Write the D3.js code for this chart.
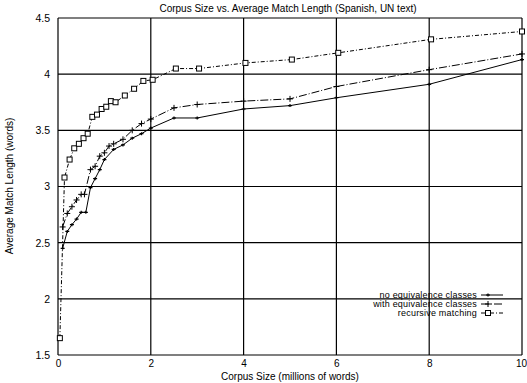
<!DOCTYPE html>
<html><head><meta charset="utf-8">
<script src="https://cdn.jsdelivr.net/npm/d3@7"></script>
<style>
html,body{margin:0;padding:0;background:#fff;}
text{font-family:"Liberation Sans",Arial,Helvetica,sans-serif;fill:#000;}
</style></head>
<body><svg id="c" width="527" height="383"></svg>
<script>
const title = "Corpus Size vs. Average Match Length (Spanish, UN text)";
const xLabel = "Corpus Size (millions of words)";
const yLabel = "Average Match Length (words)";
const xTicks = [0, 2, 4, 6, 8, 10];
const yTicks = [1.5, 2, 2.5, 3, 3.5, 4, 4.5];
const seriesNames = ["no equivalence classes", "with equivalence classes", "recursive matching"];

const noEqX = [0.1,0.2,0.3,0.4,0.5,0.6,0.7,0.8,0.9,1.0,1.2,1.4,1.6,1.8,2.0,2.5,3.0,4.0,5.0,6.0,8.0,10];
const noEqY = [2.45,2.60,2.66,2.71,2.77,2.77,2.99,3.07,3.15,3.24,3.33,3.37,3.43,3.47,3.52,3.61,3.61,3.69,3.72,3.79,3.91,4.13];

const withEqX = [0.1,0.2,0.3,0.4,0.5,0.57,0.7,0.8,0.9,1.0,1.1,1.2,1.4,1.6,1.8,2.0,2.5,3.0,4.0,5.0,6.0,8.0,10];
const withEqY = [2.64,2.76,2.82,2.88,2.93,2.93,3.15,3.18,3.27,3.30,3.36,3.38,3.42,3.50,3.56,3.60,3.70,3.73,3.76,3.78,3.89,4.04,4.18];

const recX = [0.04,0.14,0.25,0.35,0.45,0.55,0.64,0.74,0.84,0.94,1.04,1.14,1.24,1.44,1.64,1.84,2.04,2.54,3.04,4.04,5.04,6.04,8.04,10];
const recY = [1.65,3.08,3.24,3.34,3.38,3.43,3.47,3.62,3.64,3.69,3.71,3.76,3.75,3.81,3.87,3.94,3.95,4.05,4.05,4.10,4.13,4.19,4.31,4.38];

const svg = d3.select("#c");
const L = 58, R = 522, T = 18, B = 355;
const x = d3.scaleLinear().domain([0, 10]).range([L, R]);
const y = d3.scaleLinear().domain([1.5, 4.5]).range([B, T]);

// grid
const g = svg.append("g");
g.selectAll(".vg").data(xTicks).enter().append("line")
  .attr("x1", d => x(d)).attr("x2", d => x(d)).attr("y1", T).attr("y2", B)
  .attr("stroke", "#000").attr("stroke-width", 1.2);
g.selectAll(".hg").data(yTicks).enter().append("line")
  .attr("x1", L).attr("x2", R).attr("y1", d => y(d)).attr("y2", d => y(d))
  .attr("stroke", "#000").attr("stroke-width", 1.2);

// axes labels
const xa = svg.append("g").attr("transform", `translate(0,${B})`)
  .call(d3.axisBottom(x).tickValues(xTicks).tickSize(0).tickPadding(5).tickFormat(d3.format("d")));
xa.select(".domain").remove();
xa.selectAll("text").attr("font-size", 10).style("font-family", "Liberation Sans, Arial, sans-serif")
  .attr("dx", d => d === 10 ? -1 : 0);
const ya = svg.append("g").attr("transform", `translate(${L},0)`)
  .call(d3.axisLeft(y).tickValues(yTicks).tickSize(0).tickPadding(8).tickFormat(d => d));
ya.select(".domain").remove();
ya.selectAll("text").attr("font-size", 10.5).style("font-family", "Liberation Sans, Arial, sans-serif");

svg.append("text").attr("x", 288).attr("y", 12).attr("text-anchor", "middle")
  .attr("font-size", 10).text(title);
svg.append("text").attr("x", 290).attr("y", 380).attr("text-anchor", "middle")
  .attr("font-size", 10).text(xLabel);
svg.append("text").attr("transform", "translate(13,186) rotate(-90)").attr("text-anchor", "middle")
  .attr("font-size", 10).text(yLabel);

const series = [
  {name: seriesNames[0], xs: noEqX, ys: noEqY, dash: null, marker: "diamond"},
  {name: seriesNames[1], xs: withEqX, ys: withEqY, dash: "8,2,1,2", marker: "plus"},
  {name: seriesNames[2], xs: recX, ys: recY, dash: "4,2,1,2", marker: "square"}
];

const line = d3.line().x(d => x(d[0])).y(d => y(d[1]));

function drawMarker(sel, type, cx, cy) {
  if (type === "plus") {
    sel.append("path").attr("d", `M${cx-3},${cy}H${cx+3}M${cx},${cy-3}V${cy+3}`)
      .attr("stroke", "#000").attr("stroke-width", 1).attr("fill", "none");
  } else if (type === "diamond") {
    sel.append("path").attr("d", `M${cx-2},${cy}H${cx+2}M${cx},${cy-1.5}V${cy+1.5}`)
      .attr("stroke", "#000").attr("stroke-width", 1.2).attr("fill", "none");
  } else {
    sel.append("rect").attr("x", cx-2.5).attr("y", cy-2.5).attr("width", 5).attr("height", 5)
      .attr("stroke", "#000").attr("stroke-width", 1).attr("fill", "#fff");
  }
}

series.forEach(s => {
  const pts = s.xs.map((v, i) => [v, s.ys[i]]);
  svg.append("path").datum(pts).attr("d", line)
    .attr("fill", "none").attr("stroke", "#000").attr("stroke-width", 1)
    .attr("stroke-dasharray", s.dash);
  const mg = svg.append("g");
  pts.forEach(p => drawMarker(mg, s.marker, x(p[0]), y(p[1])));
});

// legend
const legY = [295, 304, 313];
series.forEach((s, i) => {
  svg.append("text").attr("x", 477).attr("y", legY[i] + 3).attr("text-anchor", "end")
    .attr("font-size", 9).attr("letter-spacing", 0.2).text(s.name);
  svg.append("line").attr("x1", 481).attr("x2", 503).attr("y1", legY[i]).attr("y2", legY[i])
    .attr("stroke", "#000").attr("stroke-width", 1).attr("stroke-dasharray", s.dash);
  drawMarker(svg, s.marker, 488, legY[i]);
});
</script></body></html>
